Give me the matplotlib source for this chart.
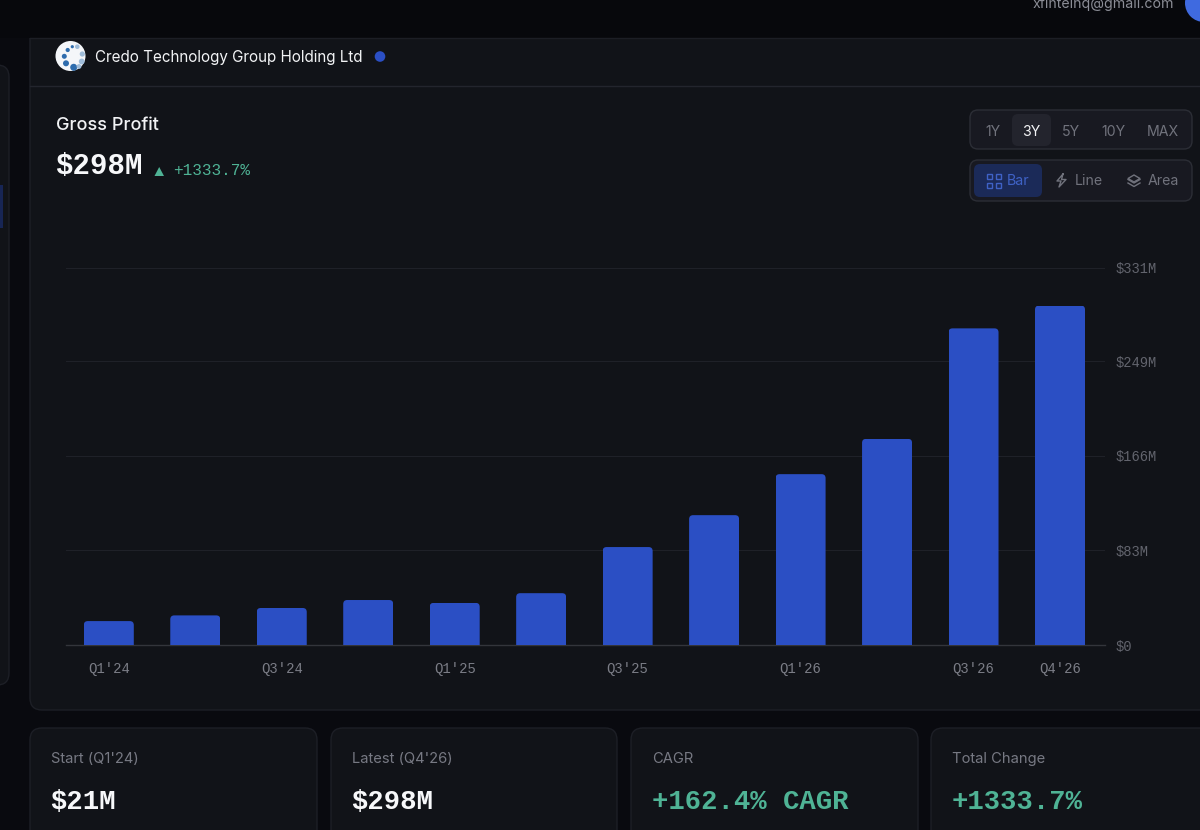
import matplotlib
matplotlib.use('Agg')
import matplotlib.pyplot as plt
from matplotlib.patches import FancyBboxPatch, Circle, Rectangle, Polygon

quarters = ["Q1'24", "Q2'24", "Q3'24", "Q4'24", "Q1'25", "Q2'25",
            "Q3'25", "Q4'25", "Q1'26", "Q2'26", "Q3'26", "Q4'26"]
gross_profit = [21, 26, 32.5, 39.5, 37, 45.5, 86, 114, 150, 181, 278, 298]
xtick_labels = ["Q1'24", "Q3'24", "Q1'25", "Q3'25", "Q1'26", "Q3'26", "Q4'26"]
ytick_values = [0, 83, 166, 249, 331]
ytick_labels = ['$0', '$83M', '$166M', '$249M', '$331M']

range_buttons = ['1Y', '3Y', '5Y', '10Y', 'MAX']
range_x = [993, 1031.5, 1070.5, 1113, 1163]

BG = '#090a0f'
PANEL = '#111318'
EDGE = '#1d1f26'
BLUE = '#2b4fc4'
GREEN = '#4fb395'
MONO = 'Liberation Mono'
SANS = 'Inter'

fig = plt.figure(figsize=(12, 8.3), dpi=100, facecolor=BG)

# Page furniture is drawn in pixel coordinates on a full size axes
bg = fig.add_axes([0, 0, 1, 1])
bg.set_xlim(0, 1200)
bg.set_ylim(830, 0)
bg.axis('off')


def box(x, y, w, h, r, face, edge='none', lw=1, z=1):
    p = FancyBboxPatch((x, y), w, h, boxstyle='round,pad=0,rounding_size=' + str(r),
                       facecolor=face, edgecolor=edge, linewidth=lw, zorder=z)
    bg.add_patch(p)


def label(x, y, s, size, color, family=SANS, weight='normal', ha='left'):
    bg.text(x, y, s, fontsize=size, color=color, family=family, weight=weight,
            ha=ha, va='center', zorder=5)


# Top bar
bg.add_patch(Rectangle((0, 0), 1200, 38, facecolor='#07080c', zorder=0))
label(1174, 4, 'xfintelhq@gmail.com', 10.2, '#8b8d96', ha='right')
bg.add_patch(Circle((1204, 3), 19, facecolor='#3f6ae0', zorder=2))

# Left sidebar and main panel
box(-30, 65, 39, 620, 12, PANEL, EDGE)
bg.add_patch(Rectangle((0, 185), 3, 43, facecolor='#172554', zorder=2))
box(30, 10, 1200, 700, 12, PANEL, EDGE)
bg.add_patch(Rectangle((0, 0), 1200, 38, facecolor='#07080c', zorder=1.5))
bg.plot([30, 1200], [38, 38], color='#1c1e25', lw=1, zorder=2)
bg.plot([30, 1200], [86.5, 86.5], color='#23252d', lw=1, zorder=2)

# Company logo
bg.add_patch(Circle((70.5, 56), 15, facecolor='#f4f6f9', zorder=3))
logo_dots = [(73.7, 67.3, 3.5, '#2e6cad'), (66, 63.3, 3, '#2e6cad'), (64.3, 56.3, 2.5, '#2e6cad'),
             (67.7, 50, 2.1, '#2e6cad'), (72.3, 46.7, 1.6, '#2e6cad'), (77.3, 46.7, 2.3, '#9fbcd9'),
             (82.3, 54, 2.6, '#9fbcd9'), (81.7, 61.5, 2.9, '#9fbcd9'), (79, 66.5, 2.4, '#9fbcd9')]
for dx, dy, dr, dc in logo_dots:
    bg.add_patch(Circle((dx, dy), dr, facecolor=dc, zorder=4))

label(95, 57.5, 'Credo Technology Group Holding Ltd', 10.95, '#f2f3f5')
bg.add_patch(Circle((380, 56.5), 5.3, facecolor=BLUE, zorder=3))

# Heading
label(56, 125.5, 'Gross Profit', 13, '#f2f3f5', weight='medium')
label(55.5, 166, '$298M', 21, '#f7f8fa', family=MONO, weight='bold')
bg.add_patch(Polygon([(154.5, 176), (164, 176), (159.2, 167)], facecolor=GREEN, zorder=4))
label(173.5, 170.5, '+1333.7%', 11.6, GREEN, family=MONO)

# Range buttons
box(970, 110, 222, 39, 8, '#181921', '#2c2e36')
box(1012, 114, 39, 32, 6, '#23242d', z=2)
for bx, s in zip(range_x, range_buttons):
    label(bx, 131.5, s, 10.2, '#f2f3f5' if s == '3Y' else '#70727c', ha='center')

# Chart type buttons
box(970, 160, 222, 41, 8, '#181921', '#2c2e36')
box(974, 164, 68, 33, 6, '#1b2a58', z=2)
for sx, sy in [(987, 174.5), (995.5, 174.5), (987, 183), (995.5, 183)]:
    bg.add_patch(Rectangle((sx, sy), 5, 5, fill=False, edgecolor='#3f62c6', lw=1, zorder=4))
label(1007, 181, 'Bar', 10.2, '#3f62c6')
bg.plot([1063, 1057, 1061, 1059, 1066, 1061.5, 1063], [174, 181, 181, 187, 179.5, 179.5, 174],
        color='#70727c', lw=1, zorder=4)
label(1075, 181, 'Line', 10.2, '#70727c')
for ly in [181, 184.5]:
    bg.plot([1128, 1134, 1140], [ly - 1.5, ly + 2, ly - 1.5], color='#70727c', lw=1, zorder=4)
bg.add_patch(Polygon([(1128, 178.5), (1134, 175), (1140, 178.5), (1134, 182)], fill=False,
                     edgecolor='#70727c', lw=1, zorder=4))
label(1148, 181, 'Area', 10.2, '#70727c')

# Stat cards
cards = [(30, 287, 'Start (Q1\'24)', '$21M', '#f7f8fa'),
         (331, 286, 'Latest (Q4\'26)', '$298M', '#f7f8fa'),
         (631, 287, 'CAGR', '+162.4% CAGR', GREEN),
         (931, 300, 'Total Change', '+1333.7%', GREEN)]
for cx, cw, title, value, col in cards:
    box(cx, 728, cw, 140, 12, PANEL, EDGE)
    label(cx + 21, 758.5, title, 10.6, '#777983')
    label(cx + 20.5, 801.5, value, 19.6, col, family=MONO, weight='bold')

# Bar chart
ax = fig.add_axes([66 / 1200, 1 - 645 / 830, 1038.5 / 1200, 377 / 830])
ax.patch.set_alpha(0)
ind = list(range(len(quarters)))
x_px = (1060 - 108.8) / 11
y_px = 377 / 331
bars = ax.bar(ind, gross_profit, width=50 / x_px, color=BLUE, zorder=3)
ax.set_xlim(-(108.8 - 66) / x_px, 11 + (1104.5 - 1060) / x_px)
ax.set_ylim(0, 331)

# Rounded top corners on the bars
for b in bars:
    clip = FancyBboxPatch((b.get_x(), -20), b.get_width(), b.get_height() + 20,
                          boxstyle='round,pad=0,rounding_size=' + str(4 / x_px),
                          mutation_aspect=x_px / y_px, transform=ax.transData)
    b.set_clip_path(clip)

ax.set_xticks([quarters.index(q) for q in xtick_labels])
ax.set_xticklabels(xtick_labels, fontsize=10, color='#7b7d86', family=MONO)
ax.set_yticks(ytick_values)
ax.set_yticklabels(ytick_labels, fontsize=9.9, color='#62646d', family=MONO, va='center_baseline')
ax.yaxis.tick_right()
ax.tick_params(axis='both', length=0)
ax.tick_params(axis='x', pad=12.5)
ax.tick_params(axis='y', pad=7.6)
ax.grid(axis='y', color='#1f2128', linewidth=0.8, zorder=0)
for s in ['top', 'left', 'right']:
    ax.spines[s].set_visible(False)
ax.spines['bottom'].set_color('#33353b')
ax.spines['bottom'].set_linewidth(1)

plt.savefig('out.png', dpi=100, facecolor=BG)
